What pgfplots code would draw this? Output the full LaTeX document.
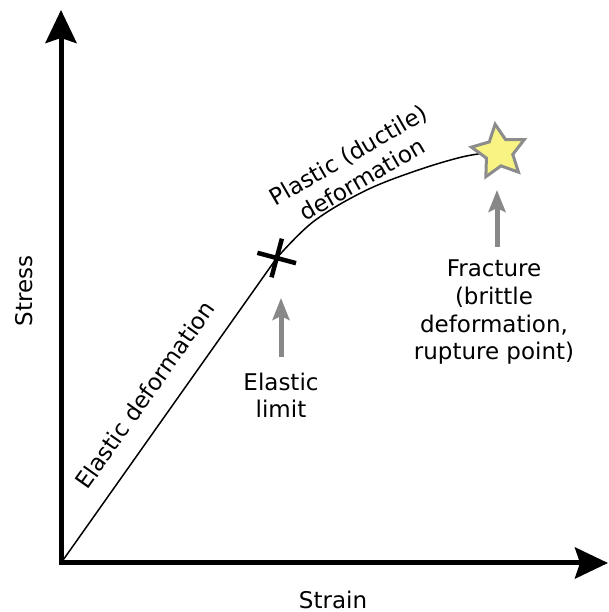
\documentclass[border=0pt]{standalone}
\usepackage{fontspec}
\setmainfont{DejaVu Sans}
\usepackage{pgfplots}
\pgfplotsset{compat=1.18}
\usetikzlibrary{arrows.meta}
\definecolor{stary}{RGB}{248,243,130}
\definecolor{stargray}{RGB}{140,140,140}
\definecolor{arrgray}{RGB}{136,136,136}
\pgfdeclareplotmark{fstar}{%
  \pgfpathmoveto{\pgfpointpolar{90}{\pgfplotmarksize}}%
  \pgfpathlineto{\pgfpointpolar{126}{0.5\pgfplotmarksize}}%
  \pgfpathlineto{\pgfpointpolar{162}{\pgfplotmarksize}}%
  \pgfpathlineto{\pgfpointpolar{198}{0.5\pgfplotmarksize}}%
  \pgfpathlineto{\pgfpointpolar{234}{\pgfplotmarksize}}%
  \pgfpathlineto{\pgfpointpolar{270}{0.5\pgfplotmarksize}}%
  \pgfpathlineto{\pgfpointpolar{306}{\pgfplotmarksize}}%
  \pgfpathlineto{\pgfpointpolar{342}{0.5\pgfplotmarksize}}%
  \pgfpathlineto{\pgfpointpolar{18}{\pgfplotmarksize}}%
  \pgfpathlineto{\pgfpointpolar{54}{0.5\pgfplotmarksize}}%
  \pgfpathclose
  \pgfusepathqfillstroke
}
\begin{document}
\begin{tikzpicture}[x=1pt,y=1pt,font=\fontsize{23}{27.7}\selectfont]
\path[use as bounding box] (0,0) rectangle (608,612);
\begin{axis}[
  at={(61pt,49pt)}, anchor=south west,
  scale only axis, width=547pt, height=553pt,
  xmin=0, xmax=547, ymin=0, ymax=553,
  axis lines=left, xtick=\empty, ytick=\empty,
  axis line style={line width=5pt, line cap=rect, -{Stealth[length=33pt,width=31pt,inset=5pt]}},
  clip=false,
]
% fracture star
\addplot[only marks, mark=fstar, mark size=28pt,
  mark options={fill=stary, draw=stargray, line width=3pt, rotate=8, line join=miter}]
  coordinates {(438,411)};
% elastic region
\addplot[line width=1.5pt, black] coordinates {(0,0) (215.7,305)};
% plastic region
\addplot[smooth, tension=0.6, line width=1.5pt, black] coordinates {
  (215.7,305) (252.3,341.3) (302.3,371.3) (352.3,391.3) (402.3,406.3) (437,411.3)};
% elastic limit
\addplot[only marks, mark=x, mark size=20pt,
  mark options={line width=4.5pt, rotate=30, black}] coordinates {(215.7,305)};
% gray arrows
\draw[line width=5pt, arrgray, -{Stealth[length=22pt,width=17pt,inset=4pt]}]
  (axis cs:220,206) -- (axis cs:220,265);
\draw[line width=5pt, arrgray, -{Stealth[length=22pt,width=17pt,inset=4pt]}]
  (axis cs:436,316) -- (axis cs:436,373);
% texts
\node[rotate=90] at (axis cs:-37,272) {Stress};
\node[anchor=base] at (axis cs:272,-45) {Strain};
\node[rotate=54.7] at (axis cs:84,168) {Elastic deformation};
\node[rotate=30, align=center] at (axis cs:294,396) {Plastic (ductile)\\deformation};
\node[align=center, anchor=base] at (axis cs:220,145) {Elastic\\limit};
\node[align=center, anchor=base] at (axis cs:433,203) {Fracture\\(brittle\\deformation,\\rupture point)};
\end{axis}
\end{tikzpicture}
\end{document}
